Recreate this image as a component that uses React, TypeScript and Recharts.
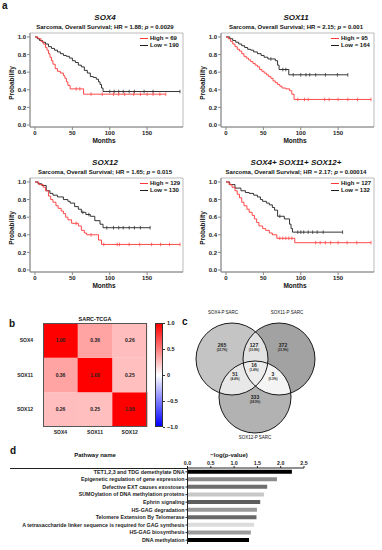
import React from 'react';
import {
  LineChart, Line, XAxis, YAxis, ReferenceArea,
  BarChart, Bar, Cell, LabelList, ScatterChart, Scatter,
} from 'recharts';

const FONT = '"Liberation Sans", Arial, sans-serif';
const RED = '#ff3636';
const BLACK = '#1e1e1e';

// ---- panel a: Kaplan-Meier curves (times in months, survival after each event) ----
const monthTicks = [0, 50, 100, 150];
const probTicks = [0, 0.2, 0.4, 0.6, 0.8, 1.0];

const sox4HighT = [4, 8, 11, 14, 16, 18, 20, 22, 24, 27, 30, 34, 38, 40, 42, 44, 47, 65];
const sox4HighS = [0.98, 0.95, 0.92, 0.88, 0.85, 0.81, 0.77, 0.73, 0.69, 0.64, 0.61, 0.59, 0.56, 0.53, 0.49, 0.45, 0.41, 0.35];
const sox4HighC = [55, 60, 75, 90, 105, 112, 120, 132, 141, 150, 158, 167, 175];
const sox4LowT = [3, 6, 10, 14, 18, 22, 26, 30, 34, 38, 42, 46, 50, 54, 58, 62, 66, 70, 74, 78, 82, 85, 87, 89, 91];
const sox4LowS = [0.98, 0.96, 0.94, 0.92, 0.89, 0.87, 0.85, 0.83, 0.81, 0.79, 0.78, 0.76, 0.73, 0.71, 0.68, 0.66, 0.62, 0.59, 0.55, 0.54, 0.52, 0.49, 0.46, 0.42, 0.38];
const sox4LowC = [100, 106, 112, 118, 126, 133, 146, 158, 194];

const sox11HighT = [3, 6, 9, 12, 15, 18, 21, 24, 27, 30, 33, 36, 39, 42, 45, 48, 51, 54, 57, 60, 63, 66, 69, 72, 75, 80, 85, 88, 91];
const sox11HighS = [0.98, 0.95, 0.92, 0.89, 0.86, 0.84, 0.81, 0.78, 0.76, 0.74, 0.72, 0.7, 0.68, 0.66, 0.63, 0.61, 0.59, 0.57, 0.55, 0.53, 0.5, 0.48, 0.46, 0.44, 0.42, 0.41, 0.39, 0.35, 0.29];
const sox11HighC = [96, 105, 110, 132, 138, 150, 163, 176, 194];
const sox11LowT = [5, 9, 13, 17, 21, 25, 29, 33, 37, 42, 47, 51, 56, 66, 69, 71, 84];
const sox11LowS = [0.98, 0.96, 0.94, 0.92, 0.9, 0.88, 0.86, 0.85, 0.83, 0.81, 0.79, 0.77, 0.75, 0.73, 0.68, 0.63, 0.57];
const sox11LowC = [60, 76, 80, 90, 100, 107, 112, 120, 133, 149, 163];

const sox12HighT = [5, 11, 14, 18, 21, 24, 28, 31, 35, 38, 41, 44, 49, 58, 62, 66, 69, 85, 89];
const sox12HighS = [0.97, 0.94, 0.9, 0.84, 0.8, 0.77, 0.73, 0.7, 0.67, 0.64, 0.6, 0.57, 0.53, 0.5, 0.45, 0.42, 0.4, 0.34, 0.29];
const sox12HighC = [55, 75, 92, 110, 113, 126, 140, 156, 168, 180, 194];
const sox12LowT = [4, 9, 15, 20, 24, 30, 38, 44, 47, 53, 58, 62, 68, 74, 80, 87, 91];
const sox12LowS = [0.98, 0.96, 0.9, 0.87, 0.85, 0.83, 0.8, 0.78, 0.76, 0.72, 0.69, 0.655, 0.63, 0.61, 0.56, 0.52, 0.48];
const sox12LowC = [64, 72, 96, 105, 112, 118, 126, 133, 141, 154];

const allHighT = [4, 8, 12, 15, 18, 21, 24, 28, 31, 35, 38, 41, 44, 49, 53, 58, 62, 68, 92];
const allHighS = [0.97, 0.94, 0.9, 0.86, 0.82, 0.77, 0.73, 0.69, 0.655, 0.62, 0.58, 0.54, 0.5, 0.47, 0.45, 0.42, 0.4, 0.36, 0.31];
const allHighC = [72, 76, 80, 84, 88, 120, 126, 133, 140, 150, 162, 175, 194];
const allLowT = [5, 12, 20, 26, 31, 37, 42, 46, 49, 54, 58, 62, 65, 69, 78, 85, 87, 89];
const allLowS = [0.97, 0.93, 0.9, 0.88, 0.87, 0.85, 0.83, 0.8, 0.78, 0.76, 0.74, 0.71, 0.68, 0.61, 0.58, 0.52, 0.47, 0.43];
const allLowC = [72, 96, 100, 104, 110, 116, 122, 130, 156];

// ---- panel b: correlation heatmap ----
const heatNames = ['SOX4', 'SOX11', 'SOX12'];
const corrSox4 = [1.0, 0.36, 0.26];
const corrSox11 = [0.36, 1.0, 0.25];
const corrSox12 = [0.26, 0.25, 1.0];
const colorbarTicks = ['1.0', '0.5', '0', '\u22120.5', '\u22121.0'];

// ---- panel c: venn ----
const vennSets = ['SOX4-P SARC', 'SOX11-P SARC', 'SOX12-P SARC'];
const vennCounts = [265, 127, 372, 16, 51, 3, 333];
const vennPct = ['22.7%', '10.9%', '31.9%', '1.4%', '4.4%', '0.3%', '28.5%'];

// ---- panel d: pathways ----
const pathways = [
  'TET1,2,3 and TDG demethylate DNA',
  'Epigenetic regulation of gene expression',
  'Defective EXT causes exostoses',
  'SUMOylation of DNA methylation proteins',
  'Ephrin signaling',
  'HS-GAG degradation',
  'Telomere Extension By Telomerase',
  'A tetrasaccharide linker sequence is required for GAG synthesis',
  'HS-GAG biosynthesis',
  'DNA methylation',
];
const pathwayLogP = [2.24, 1.92, 1.71, 1.64, 1.56, 1.49, 1.48, 1.43, 1.36, 1.32];
const pathwayTicks = [0, 0.5, 1.0, 1.5, 2.0, 2.5];

const barColors = ['#000000', '#8c8c8c', '#6e6e6e', '#c8c8c8', '#5e5e5e', '#9a9a9a', '#686868', '#dcdcdc', '#9c9c9c', '#000000'];

function curve(ts: number[], ss: number[], cs: number[]) {
  const pts = [{ t: 0, s: 1, c: false }];
  ts.forEach((t, i) => pts.push({ t, s: ss[i], c: false }));
  cs.forEach((t) => {
    let s = 1;
    ts.forEach((tt, i) => { if (tt <= t) s = ss[i]; });
    pts.push({ t, s, c: true });
  });
  return pts.sort((a, b) => a.t - b.t);
}

function kmRows(hiT, hiS, hiC, loT, loS, loC) {
  const rows: any[] = [];
  curve(hiT, hiS, hiC).forEach((p) => rows.push({ t: p.t, hi: p.s, hiC: p.c }));
  curve(loT, loS, loC).forEach((p) => rows.push({ t: p.t, lo: p.s, loC: p.c }));
  return rows.sort((a, b) => a.t - b.t);
}

const censorDot = (flag: string, color: string) => (props: any) => {
  const { cx, cy, payload, index } = props;
  if (!payload || !payload[flag] || cx == null || cy == null) return <g key={index} />;
  return <line key={index} x1={cx} x2={cx} y1={cy - 1.8} y2={cy + 1.8} stroke={color} strokeWidth={0.7} />;
};

const txt = (extra: any) => ({
  position: 'absolute' as const, fontFamily: FONT, fontWeight: 700, color: '#111', lineHeight: 1, whiteSpace: 'nowrap' as const, ...extra,
});

const X_DOM = [-6.7, 198];
const Y_DOM = [-0.023, 1.045];

function KmPanel({ left, top, title, hr, p, rows, nHigh, nLow }) {
  const tick = { fontSize: 6, fill: '#222', fontWeight: 700, fontFamily: FONT };
  return (
    <div style={{ position: 'absolute', left, top, width: 191, height: 150 }}>
      <LineChart width={191} height={150} data={rows} margin={{ top: 33, right: 8, bottom: 3, left: 0 }}>
        <XAxis type="number" dataKey="t" domain={X_DOM} ticks={monthTicks} allowDataOverflow height={20}
          tickSize={3} tickMargin={0.5} tick={tick} stroke="#888" />
        <YAxis type="number" domain={Y_DOM} ticks={probTicks} allowDataOverflow width={30} tickSize={3} tickMargin={1}
          tickFormatter={(v) => v.toFixed(1)} tick={tick} stroke="#888" />
        <ReferenceArea x1={X_DOM[0]} x2={X_DOM[1]} y1={Y_DOM[0]} y2={Y_DOM[1]} fill="none" stroke="#aaa" strokeWidth={0.8} fillOpacity={0} />
        <Line type="stepAfter" dataKey="lo" stroke={BLACK} strokeWidth={0.9} connectNulls dot={censorDot('loC', BLACK)} isAnimationActive={false} />
        <Line type="stepAfter" dataKey="hi" stroke={RED} strokeWidth={0.9} connectNulls dot={censorDot('hiC', RED)} isAnimationActive={false} />
      </LineChart>
      <div style={txt({ left: 30, top: 14, width: 150, textAlign: 'center', fontSize: 8, fontStyle: 'italic' })}>{title}</div>
      <div style={txt({ left: 20, top: 23.5, width: 170, textAlign: 'center', fontSize: 6 })}>
        Sarcoma, Overall Survival; HR = {hr}; <i>p</i> = {p}
      </div>
      <div style={txt({ left: 54, top: 137.5, width: 100, textAlign: 'center', fontSize: 6.5 })}>Months</div>
      <div style={txt({ left: 12, top: 83, fontSize: 6.5, transform: 'translate(-50%,-50%) rotate(-90deg)' })}>Probability</div>
      <div style={{ position: 'absolute', left: 140, top: 38, width: 8, height: 1, background: RED }} />
      <div style={txt({ left: 150, top: 35, fontSize: 6 })}>High = {nHigh}</div>
      <div style={{ position: 'absolute', left: 140, top: 45, width: 8, height: 1, background: BLACK }} />
      <div style={txt({ left: 150, top: 42, fontSize: 6 })}>Low = {nLow}</div>
    </div>
  );
}

function heatColor(v: number) {
  const g = Math.round(255 * (1 - v));
  return `rgb(255,${g},${g})`;
}

function Heatmap() {
  const data = heatNames.map((col, j) => ({
    col, c12: 1, c11: 1, c4: 1, v12: corrSox12[j], v11: corrSox11[j], v4: corrSox4[j],
  }));
  const rowOrder = ['SOX12', 'SOX11', 'SOX4'];
  const tick = { fontSize: 5, fill: '#222', fontWeight: 700, fontFamily: FONT };
  const lbl = { fontSize: 5, fill: '#222', fontWeight: 700, fontFamily: FONT };
  const fmt = (v: any) => Number(v).toFixed(2);
  return (
    <div style={{ position: 'absolute', left: 0, top: 300, width: 150, height: 145 }}>
      <BarChart width={150} height={145} data={data} barCategoryGap={0} margin={{ top: 23, right: 3, bottom: 3, left: 0 }}>
        <XAxis dataKey="col" height={15} tickLine={false} axisLine={false} tickSize={0} tickMargin={3} tick={tick} interval={0} />
        <YAxis type="number" domain={[0, 3]} ticks={[0.5, 1.5, 2.5]} width={43} tickLine={false} axisLine={false}
          tickSize={0} tickMargin={10} tick={tick} tickFormatter={(v) => rowOrder[Math.floor(v)]} />
        <Bar dataKey="c12" stackId="h" isAnimationActive={false}>
          {data.map((d, i) => <Cell key={i} fill={heatColor(d.v12)} />)}
          <LabelList dataKey="v12" position="center" formatter={fmt} style={lbl} />
        </Bar>
        <Bar dataKey="c11" stackId="h" isAnimationActive={false}>
          {data.map((d, i) => <Cell key={i} fill={heatColor(d.v11)} />)}
          <LabelList dataKey="v11" position="center" formatter={fmt} style={lbl} />
        </Bar>
        <Bar dataKey="c4" stackId="h" isAnimationActive={false}>
          {data.map((d, i) => <Cell key={i} fill={heatColor(d.v4)} />)}
          <LabelList dataKey="v4" position="center" formatter={fmt} style={lbl} />
        </Bar>
      </BarChart>
      <div style={{ position: 'absolute', left: 43, top: 23, width: 104, height: 104, border: '1px solid #555', boxSizing: 'border-box' }} />
      <div style={txt({ left: 43, top: 16.5, width: 104, textAlign: 'center', fontSize: 5.5 })}>SARC-TCGA</div>
      <div style={{
        position: 'absolute', left: 155, top: 23, width: 8, height: 104, boxSizing: 'border-box', border: '0.8px solid #333',
        background: 'linear-gradient(to bottom, #ff0000 0%, #ffffff 50%, #0000ff 100%)',
      }} />
      {colorbarTicks.map((t, i) => (
        <React.Fragment key={t}>
          <div style={{ position: 'absolute', left: 163, top: 23 + i * 26, width: 1.5, height: 0.8, background: '#333' }} />
          <div style={txt({ left: 167, top: 23 + i * 26 - 2.5, fontSize: 5.5 })}>{t}</div>
        </React.Fragment>
      ))}
    </div>
  );
}

// venn layout (pixel units of the venn plot)
const vennCircles = [
  { id: 0, x: 42, y: 54, r: 36, fill: '#c4c4c4' },
  { id: 1, x: 89, y: 54, r: 36, fill: '#a2a2a2' },
  { id: 2, x: 65, y: 92, r: 36, fill: '#b2b2b2' },
];
const vennOverlaps = [
  { x: 42, y: 54, r: 36, clips: [1], fill: '#e2e2e2' },
  { x: 42, y: 54, r: 36, clips: [2], fill: '#e8e8e8' },
  { x: 89, y: 54, r: 36, clips: [2], fill: '#f4f4f4' },
  { x: 42, y: 54, r: 36, clips: [1, 2], fill: '#ececec' },
];
const vennLabelPos = [[32, 42], [64, 42], [93, 42], [64, 62], [45, 71], [83, 71], [65, 94]];

const VennCircle = (props: any) => {
  const { cx, cy, payload } = props;
  return (
    <g>
      <defs>
        <clipPath id={`venn-clip-${payload.id}`}><circle cx={cx} cy={cy} r={payload.r} /></clipPath>
      </defs>
      <circle cx={cx} cy={cy} r={payload.r} fill={payload.fill} />
    </g>
  );
};

const VennOverlap = (props: any) => {
  const { cx, cy, payload } = props;
  let el = <circle cx={cx} cy={cy} r={payload.r} fill={payload.fill} />;
  payload.clips.forEach((id: number) => { el = <g clipPath={`url(#venn-clip-${id})`}>{el}</g>; });
  return el;
};

const VennOutline = (props: any) => {
  const { cx, cy, payload } = props;
  return <circle cx={cx} cy={cy} r={payload.r} fill="none" stroke="#1a1a1a" strokeWidth={1} />;
};

const VennLabel = (props: any) => {
  const { cx, cy, payload } = props;
  return (
    <g fontFamily={FONT} fontWeight={700} fill="#222" textAnchor="middle">
      <text x={cx} y={cy} fontSize={5}>{payload.n}</text>
      <text x={cx} y={cy + 4} fontSize={3}>({payload.pct})</text>
    </g>
  );
};

function Venn() {
  const labels = vennCounts.map((n, i) => ({ x: vennLabelPos[i][0], y: vennLabelPos[i][1], n, pct: vennPct[i] }));
  return (
    <div style={{ position: 'absolute', left: 190, top: 305, width: 135, height: 140 }}>
      <ScatterChart width={135} height={140} margin={{ top: 0, right: 0, bottom: 0, left: 0 }}>
        <XAxis type="number" dataKey="x" domain={[0, 135]} hide />
        <YAxis type="number" dataKey="y" domain={[0, 140]} reversed hide />
        <Scatter data={vennCircles} shape={VennCircle} isAnimationActive={false} />
        <Scatter data={vennOverlaps} shape={VennOverlap} isAnimationActive={false} />
        <Scatter data={vennCircles} shape={VennOutline} isAnimationActive={false} />
        <Scatter data={labels} shape={VennLabel} isAnimationActive={false} />
      </ScatterChart>
      <div style={txt({ left: 13, top: 6, width: 40, textAlign: 'center', fontSize: 4.5, fontWeight: 400 })}>{vennSets[0]}</div>
      <div style={txt({ left: 77, top: 6, width: 40, textAlign: 'center', fontSize: 4.5, fontWeight: 400 })}>{vennSets[1]}</div>
      <div style={txt({ left: 45, top: 131, width: 40, textAlign: 'center', fontSize: 4.5, fontWeight: 400 })}>{vennSets[2]}</div>
    </div>
  );
}

const PathTick = (props: any) => {
  const { x, y, payload } = props;
  return (
    <text x={x} y={y} dy="0.35em" textAnchor="end" fontSize={5.3} fontWeight={700} fill="#222" fontFamily={FONT}>
      {payload.value}
    </text>
  );
};

function Pathways() {
  const data = pathways.map((name, i) => ({ name, value: pathwayLogP[i] }));
  const tick = { fontSize: 5.3, fill: '#222', fontWeight: 700, fontFamily: FONT };
  return (
    <div style={{ position: 'absolute', left: 0, top: 450, width: 314, height: 96 }}>
      <BarChart layout="vertical" width={314} height={96} data={data} barCategoryGap="22%"
        margin={{ top: 4, right: 10, bottom: 2, left: 0 }}>
        <XAxis type="number" orientation="top" domain={[0, 2.5]} ticks={pathwayTicks} height={14}
          tickSize={2} tickMargin={1.5} tickFormatter={(v) => v.toFixed(1)} tick={tick} stroke="#222" />
        <YAxis type="category" dataKey="name" width={187.5} tickSize={2} tickMargin={1} interval={0} tick={PathTick} stroke="#222" />
        <Bar dataKey="value" isAnimationActive={false}>
          {data.map((d, i) => <Cell key={i} fill={barColors[i]} />)}
        </Bar>
      </BarChart>
      <div style={{ position: 'absolute', left: 10, top: 17.5, width: 178, height: 0.8, background: '#222' }} />
      <div style={txt({ left: 95, top: 2, fontSize: 6, transform: 'translateX(-50%)' })}>Pathway name</div>
      <div style={txt({ left: 229, top: 2, fontSize: 6, transform: 'translateX(-50%)' })}>&minus;log(p-value)</div>
    </div>
  );
}

const km4 = kmRows(sox4HighT, sox4HighS, sox4HighC, sox4LowT, sox4LowS, sox4LowC);
const km11 = kmRows(sox11HighT, sox11HighS, sox11HighC, sox11LowT, sox11LowS, sox11LowC);
const km12 = kmRows(sox12HighT, sox12HighS, sox12HighC, sox12LowT, sox12LowS, sox12LowC);
const kmAll = kmRows(allHighT, allHighS, allHighC, allLowT, allLowS, allLowC);

export default function App() {
  return (
    <div style={{ position: 'absolute', left: 0, top: 0, width: 382, height: 550, background: '#fff', overflow: 'hidden' }}>
      <KmPanel left={0} top={0} title="SOX4" hr="1.88" p="0.0029" rows={km4} nHigh={69} nLow={190} />
      <KmPanel left={191} top={0} title="SOX11" hr="2.15" p="0.001" rows={km11} nHigh={95} nLow={164} />
      <KmPanel left={0} top={145} title="SOX12" hr="1.65" p="0.015" rows={km12} nHigh={129} nLow={130} />
      <KmPanel left={191} top={145} title="SOX4+ SOX11+ SOX12+" hr="2.17" p="0.00014" rows={kmAll} nHigh={127} nLow={132} />
      <Heatmap />
      <Venn />
      <Pathways />
      <div style={txt({ left: 2, top: 1, fontSize: 10 })}>a</div>
      <div style={txt({ left: 9, top: 319, fontSize: 10 })}>b</div>
      <div style={txt({ left: 182, top: 317, fontSize: 10 })}>c</div>
      <div style={txt({ left: 10, top: 446, fontSize: 10 })}>d</div>
    </div>
  );
}
